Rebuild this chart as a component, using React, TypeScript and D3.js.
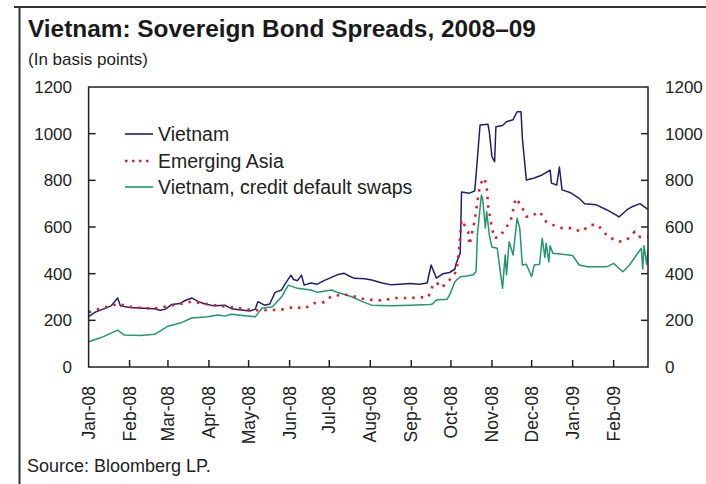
import React from 'react';
import * as d3 from 'd3';

type Pt = [string, number];

const vietnam: Pt[] = [
  ['2008-01-01', 216], ['2008-01-06', 235], ['2008-01-13', 250], ['2008-01-18', 262], ['2008-01-23', 296],
  ['2008-01-25', 262], ['2008-02-01', 255], ['2008-02-12', 252], ['2008-02-20', 250], ['2008-02-24', 243],
  ['2008-02-28', 248], ['2008-03-04', 268], ['2008-03-10', 272], ['2008-03-14', 285], ['2008-03-19', 296],
  ['2008-03-24', 280], ['2008-03-29', 270], ['2008-04-05', 262], ['2008-04-13', 265], ['2008-04-18', 250],
  ['2008-04-24', 245], ['2008-05-02', 240], ['2008-05-06', 248], ['2008-05-08', 280], ['2008-05-13', 265],
  ['2008-05-17', 270], ['2008-05-21', 320], ['2008-05-26', 330], ['2008-05-28', 351], ['2008-06-02', 394],
  ['2008-06-04', 375], ['2008-06-07', 370], ['2008-06-10', 394], ['2008-06-12', 351], ['2008-06-17', 360],
  ['2008-06-22', 355], ['2008-06-27', 370], ['2008-07-03', 385], ['2008-07-07', 395], ['2008-07-12', 402],
  ['2008-07-16', 390], ['2008-07-20', 380], ['2008-07-28', 378], ['2008-08-02', 373], ['2008-08-10', 360],
  ['2008-08-17', 352], ['2008-08-23', 355], ['2008-08-31', 358], ['2008-09-07', 355], ['2008-09-13', 360],
  ['2008-09-16', 437], ['2008-09-20', 381], ['2008-09-25', 400], ['2008-09-30', 405], ['2008-10-04', 420],
  ['2008-10-05', 445], ['2008-10-08', 488], ['2008-10-09', 750], ['2008-10-15', 745], ['2008-10-19', 755],
  ['2008-10-20', 823], ['2008-10-23', 1037], ['2008-10-29', 1040], ['2008-10-30', 1008], ['2008-11-01', 901],
  ['2008-11-03', 880], ['2008-11-04', 1030], ['2008-11-09', 1035], ['2008-11-12', 1051], ['2008-11-17', 1060],
  ['2008-11-20', 1094], ['2008-11-23', 1094], ['2008-11-24', 981], ['2008-11-27', 801], ['2008-12-03', 810],
  ['2008-12-09', 823], ['2008-12-15', 844], ['2008-12-16', 788], ['2008-12-20', 780], ['2008-12-22', 857],
  ['2008-12-24', 759], ['2008-12-30', 748], ['2009-01-06', 723], ['2009-01-10', 700], ['2009-01-19', 695],
  ['2009-01-27', 673], ['2009-02-03', 651], ['2009-02-05', 643], ['2009-02-11', 673], ['2009-02-15', 687],
  ['2009-02-21', 700], ['2009-02-24', 687], ['2009-02-27', 675],
];

const emergingAsia: Pt[] = [
  ['2008-01-01', 235], ['2008-01-10', 250], ['2008-01-23', 270], ['2008-02-05', 255], ['2008-02-20', 250],
  ['2008-03-05', 265], ['2008-03-19', 280], ['2008-04-05', 265], ['2008-04-20', 255], ['2008-05-05', 243],
  ['2008-05-25', 245], ['2008-06-05', 258], ['2008-06-12', 250], ['2008-06-20', 274], ['2008-06-27', 278],
  ['2008-07-03', 305], ['2008-07-15', 310], ['2008-07-28', 290], ['2008-08-10', 285], ['2008-08-20', 296],
  ['2008-09-01', 296], ['2008-09-14', 300], ['2008-09-16', 337], ['2008-09-20', 363], ['2008-09-24', 340],
  ['2008-09-30', 373], ['2008-10-05', 409], ['2008-10-07', 494], ['2008-10-09', 630], ['2008-10-14', 580],
  ['2008-10-15', 523], ['2008-10-18', 601], ['2008-10-19', 630], ['2008-10-21', 709], ['2008-10-23', 780],
  ['2008-10-26', 810], ['2008-10-28', 780], ['2008-10-29', 694], ['2008-10-31', 630], ['2008-11-01', 594],
  ['2008-11-03', 552], ['2008-11-07', 559], ['2008-11-12', 601], ['2008-11-15', 623], ['2008-11-19', 723],
  ['2008-11-23', 694], ['2008-11-27', 645], ['2008-11-30', 644], ['2008-12-07', 666], ['2008-12-12', 623],
  ['2008-12-17', 609], ['2008-12-24', 595], ['2009-01-01', 595], ['2009-01-07', 580], ['2009-01-15', 609],
  ['2009-01-20', 609], ['2009-01-28', 557], ['2009-02-05', 537], ['2009-02-11', 545], ['2009-02-17', 580],
  ['2009-02-21', 557], ['2009-02-27', 560],
];

const vietnamCDS: Pt[] = [
  ['2008-01-01', 108], ['2008-01-10', 125], ['2008-01-18', 145], ['2008-01-23', 158], ['2008-01-28', 137],
  ['2008-02-09', 135], ['2008-02-20', 140], ['2008-03-01', 175], ['2008-03-11', 190], ['2008-03-19', 210],
  ['2008-03-31', 215], ['2008-04-08', 223], ['2008-04-13', 218], ['2008-04-18', 226], ['2008-04-28', 220],
  ['2008-05-06', 215], ['2008-05-11', 252], ['2008-05-19', 258], ['2008-05-26', 301], ['2008-05-31', 351],
  ['2008-06-07', 337], ['2008-06-17', 330], ['2008-06-22', 320], ['2008-07-03', 330], ['2008-07-07', 320],
  ['2008-07-18', 301], ['2008-07-26', 280], ['2008-08-02', 265], ['2008-08-16', 262], ['2008-08-31', 265],
  ['2008-09-15', 268], ['2008-09-17', 270], ['2008-09-20', 287], ['2008-09-28', 290], ['2008-09-30', 309],
  ['2008-10-04', 366], ['2008-10-08', 387], ['2008-10-13', 390], ['2008-10-18', 395], ['2008-10-20', 409],
  ['2008-10-21', 566], ['2008-10-24', 737], ['2008-10-25', 720], ['2008-10-27', 596], ['2008-10-28', 666],
  ['2008-10-30', 566], ['2008-11-01', 514], ['2008-11-05', 509], ['2008-11-07', 423], ['2008-11-09', 337],
  ['2008-11-11', 480], ['2008-11-12', 395], ['2008-11-14', 537], ['2008-11-17', 480], ['2008-11-20', 637],
  ['2008-11-22', 596], ['2008-11-24', 437], ['2008-11-27', 440], ['2008-12-01', 387], ['2008-12-03', 437],
  ['2008-12-07', 440], ['2008-12-09', 552], ['2008-12-11', 470], ['2008-12-12', 530], ['2008-12-14', 450],
  ['2008-12-15', 520], ['2008-12-17', 488], ['2008-12-24', 483], ['2009-01-01', 478], ['2009-01-06', 437],
  ['2009-01-12', 430], ['2009-01-27', 430], ['2009-02-01', 444], ['2009-02-05', 423], ['2009-02-08', 408],
  ['2009-02-13', 437], ['2009-02-18', 478], ['2009-02-22', 509], ['2009-02-23', 420], ['2009-02-24', 520],
  ['2009-02-26', 440], ['2009-02-27', 500],
];

const yTicks = [0, 200, 400, 600, 800, 1000, 1200];
const monthTicks = [
  '2008-01-01', '2008-02-01', '2008-03-01', '2008-04-01', '2008-05-01', '2008-06-01', '2008-07-01',
  '2008-08-01', '2008-09-01', '2008-10-01', '2008-11-01', '2008-12-01', '2009-01-01', '2009-02-01',
];
const monthLabels = [
  'Jan-08', 'Feb-08', 'Mar-08', 'Apr-08', 'May-08', 'Jun-08', 'Jul-08',
  'Aug-08', 'Sep-08', 'Oct-08', 'Nov-08', 'Dec-08', 'Jan-09', 'Feb-09',
];
const legendLabels = ['Vietnam', 'Emerging Asia', 'Vietnam, credit default swaps'];

const domainStart = '2008-01-01';
const domainEnd = '2009-02-27';

const parse = d3.timeParse('%Y-%m-%d');
const FONT = '"Liberation Sans", Arial, Helvetica, sans-serif';
const BLUE = '#1f1f6e';
const RED = '#d8232f';
const GREEN = '#23966f';

export default function App() {
  const L = 88.6, R = 648, T = 87, B = 367;
  const x = d3.scaleTime().domain([parse(domainStart)!, parse(domainEnd)!]).range([L, R]);
  const y = d3.scaleLinear().domain([0, 1200]).range([B, T]);
  const line = d3.line<Pt>().x(d => x(parse(d[0])!)).y(d => y(d[1]));

  const legendColors = [BLUE, RED, GREEN];
  const legendY = [134, 161, 187];

  return (
    <svg width={706} height={484} style={{ position: 'absolute', left: 0, top: 0, background: '#fff' }}
      fontFamily={FONT}>
      <rect x={0} y={0} width={706} height={484} fill="#fff" />
      {/* outer frame */}
      <line x1={14} x2={706} y1={7} y2={7} stroke="#333" strokeWidth={2} />
      <line x1={19.5} x2={19.5} y1={6} y2={484} stroke="#333" strokeWidth={2} />

      <text x={28} y={37} fontSize={24.4} fontWeight="bold" fill="#1a1a1a">
        Vietnam: Sovereign Bond Spreads, 2008–09
      </text>
      <text x={28} y={65} fontSize={17} fill="#222">(In basis points)</text>

      {/* series */}
      <g clipPath="url(#plotclip)">
        <defs>
          <clipPath id="plotclip"><rect x={L} y={T} width={R - L} height={B - T} /></clipPath>
        </defs>
        <path d={line(vietnamCDS)!} fill="none" stroke={GREEN} strokeWidth={1.5} strokeLinejoin="round" />
        <path d={line(vietnam)!} fill="none" stroke={BLUE} strokeWidth={1.5} strokeLinejoin="round" />
        <path d={line(emergingAsia)!} fill="none" stroke={RED} strokeWidth={2.6} strokeDasharray="2.5 6" />
      </g>

      {/* plot frame */}
      <rect x={L} y={T} width={R - L} height={B - T} fill="none" stroke="#222" strokeWidth={1.5} />

      {/* y ticks and labels */}
      {yTicks.map(v => (
        <g key={v}>
          {v > 0 && v < 1200 && (
            <>
              <line x1={L} x2={L + 7} y1={y(v)} y2={y(v)} stroke="#222" strokeWidth={1.5} />
              <line x1={R - 7} x2={R} y1={y(v)} y2={y(v)} stroke="#222" strokeWidth={1.5} />
            </>
          )}
          <text x={72} y={y(v)} dy="0.35em" textAnchor="end" fontSize={17} fill="#222">{v}</text>
          <text x={665} y={y(v)} dy="0.35em" textAnchor="start" fontSize={17} fill="#222">{v}</text>
        </g>
      ))}

      {/* x ticks and labels */}
      {monthTicks.map((m, i) => {
        const xx = x(parse(m)!);
        return (
          <g key={m}>
            {i > 0 && <line x1={xx} x2={xx} y1={B} y2={B - 7} stroke="#222" strokeWidth={1.5} />}
            <text transform={`translate(${xx},386) rotate(-90)`} textAnchor="end" dy="0.35em"
              fontSize={17.5} fill="#222">{monthLabels[i]}</text>
          </g>
        );
      })}

      {/* legend */}
      {legendLabels.map((lab, i) => (
        <g key={lab}>
          <line x1={125} x2={153} y1={legendY[i]} y2={legendY[i]} stroke={legendColors[i]}
            strokeWidth={i === 1 ? 2.6 : 1.6} strokeDasharray={i === 1 ? '2.5 4.5' : undefined} />
          <text x={158} y={legendY[i]} dy="0.35em" fontSize={19.5} fill="#222">{lab}</text>
        </g>
      ))}

      <text x={27} y={471.5} fontSize={18} fill="#222">Source: Bloomberg LP.</text>
    </svg>
  );
}
